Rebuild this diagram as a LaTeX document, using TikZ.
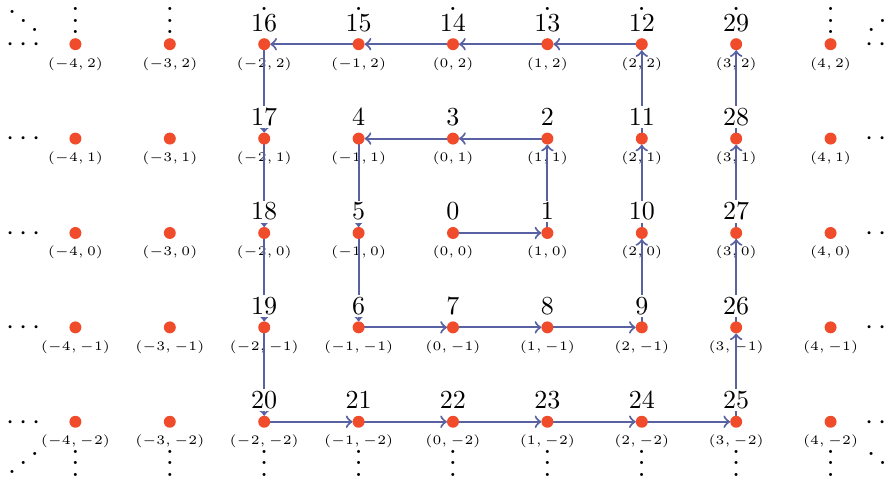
\documentclass[tikz,border=0pt]{standalone}
\usepackage{graphicx}
\definecolor{ptred}{RGB}{240,76,44}
\definecolor{arrowblue}{RGB}{88,98,162}
\tikzset{
  ptdot/.style={circle,fill=ptred,inner sep=0pt,minimum size=4.6pt},
  numlab/.style={anchor=base,fill=white,inner sep=0.8pt,font=\normalsize},
  coordlab/.style={anchor=base,inner sep=0pt,font=\tiny},
  ell/.style={anchor=base,inner sep=0pt},
  spiral/.style={draw=arrowblue,thick,->,shorten >=2.3pt},
}
\begin{document}
\begin{tikzpicture}[x=36.3pt,y=36.3pt]
\clip (-4.799,-2.617) rectangle (4.640,2.468);
% coordinate labels
\foreach \x in {-4,...,4}{\foreach \y in {-2,...,2}{
  \node[coordlab] (c\x\y) at ([yshift=-8.85pt]\x,\y) {$(\x,\y)$};
}}
% ellipses
\foreach \x in {-4,...,4}{
  \node[ell] (vt\x) at ([yshift=4pt]\x,2) {\scalebox{1.12}{$\vdots$}};
  \node[ell] (vb\x) at ([yshift=-21pt]\x,-2) {\scalebox{1.12}{$\vdots$}};
}
\foreach \y in {-2,...,2}{
  \node[ell] (hl\y) at ([xshift=-20pt,yshift=-2.8pt]-4,\y) {\scalebox{1.12}{$\cdots$}};
  \node[ell] (hr\y) at ([xshift=20pt,yshift=-2.8pt]4,\y) {\scalebox{1.12}{$\cdots$}};
}
\node[ell] (dtl) at ([xshift=-20pt,yshift=3.78pt]-4,2) {\scalebox{1.12}{$\ddots$}};
\node[ell] (dtr) at ([xshift=20pt,yshift=3.78pt]4,2) {\scalebox{1.12}{\reflectbox{$\ddots$}}};
\node[ell] (dbl) at ([xshift=-20pt,yshift=-20.9pt]-4,-2) {\scalebox{1.12}{\reflectbox{$\ddots$}}};
\node[ell] (dbr) at ([xshift=20pt,yshift=-20.9pt]4,-2) {\scalebox{1.12}{$\ddots$}};
% spiral positions
\foreach \n/\x/\y in {0/0/0,1/1/0,2/1/1,3/0/1,4/-1/1,5/-1/0,6/-1/-1,7/0/-1,8/1/-1,9/2/-1,
  10/2/0,11/2/1,12/2/2,13/1/2,14/0/2,15/-1/2,16/-2/2,17/-2/1,18/-2/0,19/-2/-1,
  20/-2/-2,21/-1/-2,22/0/-2,23/1/-2,24/2/-2,25/3/-2,26/3/-1,27/3/0,28/3/1,29/3/2}{
  \coordinate (s\n) at (\x,\y);
}
% arrows
\foreach \a [evaluate=\a as \b using int(\a+1)] in {0,...,28}{
  \draw[spiral] (s\a) -- (s\b);
}
% dots
\foreach \x in {-4,...,4}{\foreach \y in {-2,...,2}{
  \node[ptdot] (d\x\y) at (\x,\y) {};
}}
% number labels
\foreach \n in {0,...,29}{
  \node[numlab] (l\n) at ([yshift=5pt]s\n) {\n};
}
\end{tikzpicture}
\end{document}
